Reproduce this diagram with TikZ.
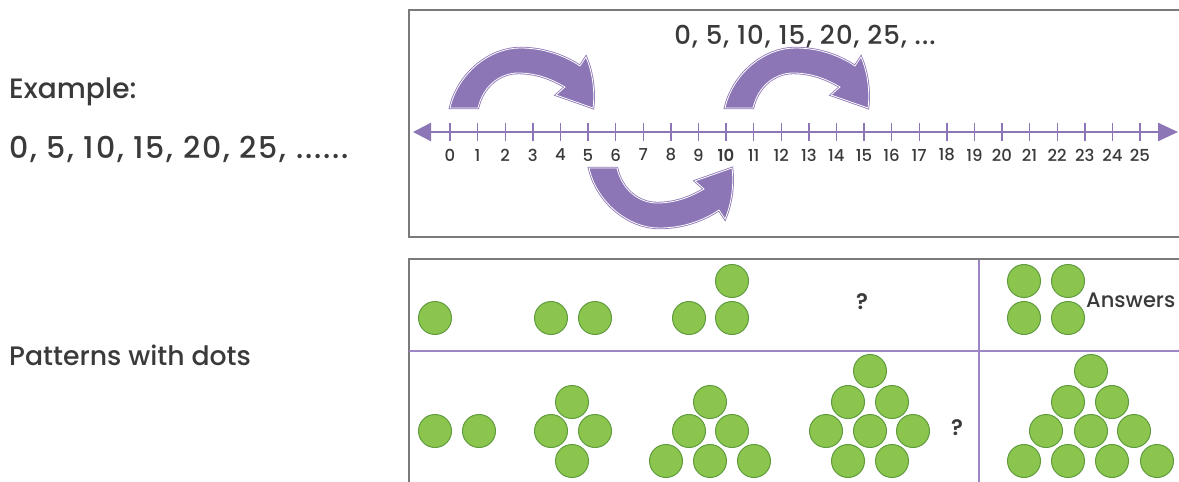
\documentclass[tikz,border=0pt]{standalone}
\usepackage{fontspec}
\setmainfont{Poppins}[UprightFont={* Medium}, BoldFont={* SemiBold}]
\usetikzlibrary{arrows.meta}
\definecolor{apurple}{HTML}{8C76B6}
\definecolor{lpurple}{HTML}{9C86C8}
\definecolor{dgreen}{HTML}{5E9B3C}
\definecolor{lgreen}{HTML}{8CC54E}
\definecolor{txt}{HTML}{3A3A3A}
\definecolor{boxgray}{HTML}{7A7A7A}
\tikzset{
  boxline/.style={draw=boxgray, line width=1.5pt},
  gridline/.style={draw=lpurple, line width=2pt},
  numline/.style={draw=apurple, line width=2.5pt, {Triangle[length=18pt,width=18pt]}-{Triangle[length=20pt,width=18pt]}},
  tickmark/.style={draw=apurple, line width=1.4pt},
  numlab/.style={text=txt, font=\fontsize{16.5}{16.5}\selectfont, inner sep=0pt},
  bigtxt/.style={text=txt, anchor=west, inner sep=0pt},
  dot/.style={circle, minimum size=33pt, inner sep=0pt, fill=lgreen, draw=dgreen, line width=1pt},
  qmark/.style={text=txt, font=\fontsize{22}{22}\selectfont\bfseries, inner sep=0pt},
  curvarrow/.pic={
    \path[fill=apurple, draw=apurple, double=white, double distance=0.8pt, line width=0.8pt, line join=miter]
      (0,0) .. controls (8,-35) and (40,-60) .. (70,-60)
      .. controls (95,-60) and (115,-52) .. (130,-42)
      -- (136,-51) .. controls (143,-35) and (145,-15) .. (143,0)
      -- (106,-13) -- (115,-21)
      .. controls (100,-30) and (85,-35) .. (68,-35)
      .. controls (50,-35) and (33,-22) .. (28,0) -- cycle;
  }
}
\begin{document}
\begin{tikzpicture}[x=1pt,y=-1pt]
\useasboundingbox[fill=white] (0,0) rectangle (1179,482);

% left texts
\node[bigtxt, font=\fontsize{28}{28}\selectfont] (ex) at (9,92) {Example:};
\node[bigtxt, font=\fontsize{30}{30}\selectfont\addfontfeatures{LetterSpace=6}] (seq) at (9,149) {0, 5, 10, 15, 20, 25, ......};
\node[bigtxt, font=\fontsize{26.7}{26.7}\selectfont] (pat) at (9,355) {Patterns with dots};

% top box
\coordinate (tb1) at (1179,10);
\coordinate (tb2) at (409,10);
\coordinate (tb3) at (409,237);
\coordinate (tb4) at (1179,237);
\draw[boxline] (tb1) -- (tb2) -- (tb3) -- (tb4);

% sequence on top
\node[text=txt, font=\fontsize{26}{26}\selectfont\addfontfeatures{LetterSpace=4}, inner sep=0pt] (topseq) at (805,37) {0, 5, 10, 15, 20, 25, ...};

% curved arrows
\pic at (450,108) {curvarrow};
\pic at (725,108) {curvarrow};
\pic[yscale=-1] at (589,168) {curvarrow};

% number line
\coordinate (nlL) at (413,132);
\coordinate (nlR) at (1178,132);
\draw[numline] (nlL) -- (nlR);
\foreach \i in {0,...,25}{
  \coordinate (t\i) at ({450+27.6*\i},123);
  \draw[tickmark] (t\i) -- ++(0,18);
}
\foreach \i in {0,...,9,11,12,...,25}{
  \node[numlab] (n\i) at ({450+27.6*\i},155) {\i};
}
\node[numlab, font=\fontsize{16.5}{16.5}\selectfont\bfseries] (n10) at (726,155) {10};

% bottom box
\coordinate (bb1) at (409,482);
\coordinate (bb2) at (409,259);
\coordinate (bb3) at (1179,259);
\draw[boxline] (bb1) -- (bb2) -- (bb3);
\coordinate (hl1) at (409,351);
\coordinate (hl2) at (1179,351);
\draw[gridline] (hl1) -- (hl2);
\coordinate (vl1) at (979,260);
\coordinate (vl2) at (979,482);
\draw[gridline] (vl1) -- (vl2);

% top row dots
\node[dot] (a1) at (435,318) {};
\node[dot] (b1) at (551,318) {};
\node[dot] (b2) at (595,318) {};
\node[dot] (c1) at (689,318) {};
\node[dot] (c2) at (732,318) {};
\node[dot] (c3) at (732,281) {};
\node[qmark] (q1) at (862,302) {?};
\node[dot] (d1) at (1024,281) {};
\node[dot] (d2) at (1068,281) {};
\node[dot] (d3) at (1024,318) {};
\node[dot] (d4) at (1068,318) {};
\node[text=txt, font=\fontsize{21}{21}\selectfont, anchor=west, inner sep=0pt] (ans) at (1086,300) {Answers};

% bottom row dots
\node[dot] (e1) at (435,431) {};
\node[dot] (e2) at (479,431) {};
\node[dot] (f1) at (572,402) {};
\node[dot] (f2) at (551,431) {};
\node[dot] (f3) at (595,431) {};
\node[dot] (f4) at (572,461) {};
\node[dot] (g1) at (710,402) {};
\node[dot] (g2) at (689,431) {};
\node[dot] (g3) at (732,431) {};
\node[dot] (g4) at (666,461) {};
\node[dot] (g5) at (710,461) {};
\node[dot] (g6) at (754,461) {};
\node[dot] (h1) at (870,371) {};
\node[dot] (h2) at (848,402) {};
\node[dot] (h3) at (892,402) {};
\node[dot] (h4) at (826,431) {};
\node[dot] (h5) at (870,431) {};
\node[dot] (h6) at (913,431) {};
\node[dot] (h7) at (848,461) {};
\node[dot] (h8) at (892,461) {};
\node[qmark] (q2) at (957,428) {?};
\node[dot] (k1) at (1091,371) {};
\node[dot] (k2) at (1068,402) {};
\node[dot] (k3) at (1112,402) {};
\node[dot] (k4) at (1046,431) {};
\node[dot] (k5) at (1091,431) {};
\node[dot] (k6) at (1134,431) {};
\node[dot] (k7) at (1024,461) {};
\node[dot] (k8) at (1068,461) {};
\node[dot] (k9) at (1112,461) {};
\node[dot] (k10) at (1157,461) {};
\end{tikzpicture}
\end{document}
